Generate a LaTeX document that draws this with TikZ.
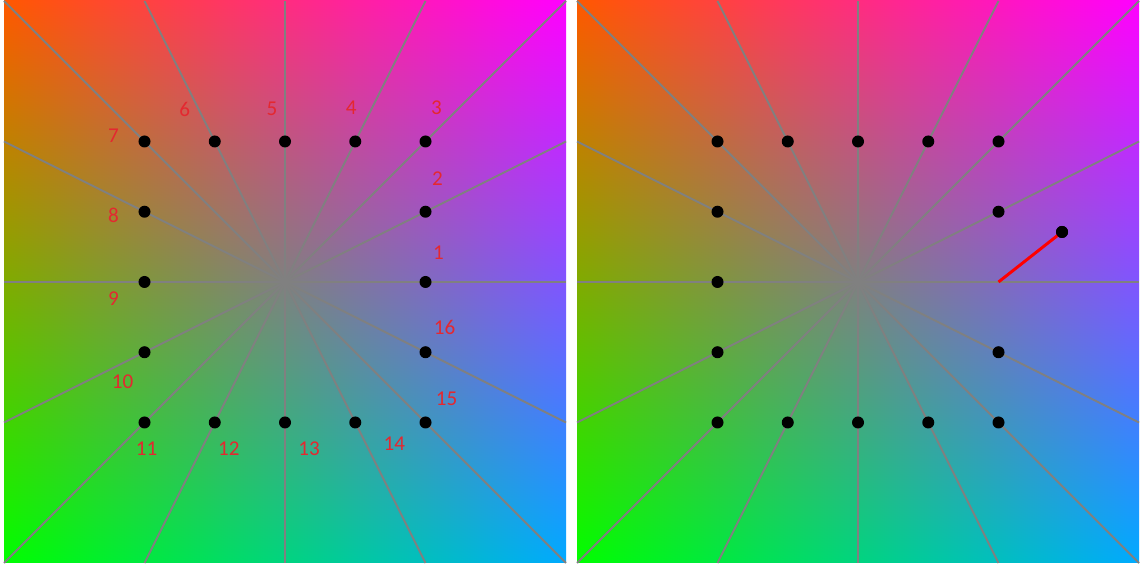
\documentclass[tikz,border=0pt]{standalone}
\usepackage{fontspec}
\setsansfont{Carlito}
\usetikzlibrary{shadings}
\definecolor{cornerTL}{RGB}{255,88,0}
\definecolor{cornerTR}{RGB}{255,0,255}
\definecolor{cornerBL}{RGB}{0,255,0}
\definecolor{cornerBR}{RGB}{0,170,255}
\definecolor{spokegray}{RGB}{128,128,128}
\definecolor{numred}{RGB}{228,40,48}
\definecolor{movered}{RGB}{255,0,0}

\begin{document}
\begin{tikzpicture}[x=0.025cm, y=0.025cm,
  panel/.style={upper left=cornerTL, upper right=cornerTR, lower left=cornerBL, lower right=cornerBR},
  spoke/.style={draw=spokegray, line width=1.4pt},
  blob/.style={circle, fill=black, minimum size=0.3cm, inner sep=0pt},
  numlabel/.style={font=\sffamily\fontsize{15}{18}\selectfont, text=numred, inner sep=0pt},
  moveline/.style={draw=movered, line width=2.1pt},
]
  \useasboundingbox (0,0) rectangle (1140,564);
  \fill[white] (0,0) rectangle (1140,564);

  % two panels: colour field and the 16 spokes
  \foreach \cx/\nm in {285/L, 858/R} {
    \coordinate (c\nm) at (\cx, 282);
    \shade[panel] (\cx-281, 1) rectangle (\cx+281, 563);
    \foreach \k in {-2,...,2} {
      \draw[spoke] (c\nm) -- ++(281, \k*140.5);
      \draw[spoke] (c\nm) -- ++(-281, \k*140.5);
    }
    \foreach \k in {-1,0,1} {
      \draw[spoke] (c\nm) -- ++(\k*140.5, 281);
      \draw[spoke] (c\nm) -- ++(\k*140.5, -281);
    }
  }

  % left panel: numbered points
  \foreach \i/\gx/\gy/\lx/\ly in {1/2/0/13/29, 2/2/1/12/33, 3/2/2/11/34, 4/1/2/-4/34,
      5/0/2/-13/33, 6/-1/2/-30/32, 7/-2/2/-31/6, 8/-2/1/-31/-4, 9/-2/0/-31/-17,
      10/-2/-1/-22/-29, 11/-2/-2/2/-26, 12/-1/-2/14/-26, 13/0/-2/24/-26,
      14/1/-2/39/-21, 15/2/-2/21/24, 16/2/-1/19/25} {
    \node[blob] (L\i) at (285+\gx*70.25, 282+\gy*70.25) {};
    \node[numlabel] (n\i) at (285+\gx*70.25+\lx, 282+\gy*70.25+\ly) {\i};
  }

  % right panel: same points, point 1 moved
  \foreach \i/\gx/\gy in {2/2/1, 3/2/2, 4/1/2, 5/0/2, 6/-1/2, 7/-2/2, 8/-2/1, 9/-2/0,
      10/-2/-1, 11/-2/-2, 12/-1/-2, 13/0/-2, 14/1/-2, 15/2/-2, 16/2/-1} {
    \node[blob] (R\i) at (858+\gx*70.25, 282+\gy*70.25) {};
  }
  \coordinate (R1) at (858+140.5, 282);
  \node[blob] (Rm) at (1062, 332) {};
  \draw[moveline] (R1) -- (Rm.center);
  \node[blob] at (Rm) {};
\end{tikzpicture}
\end{document}
